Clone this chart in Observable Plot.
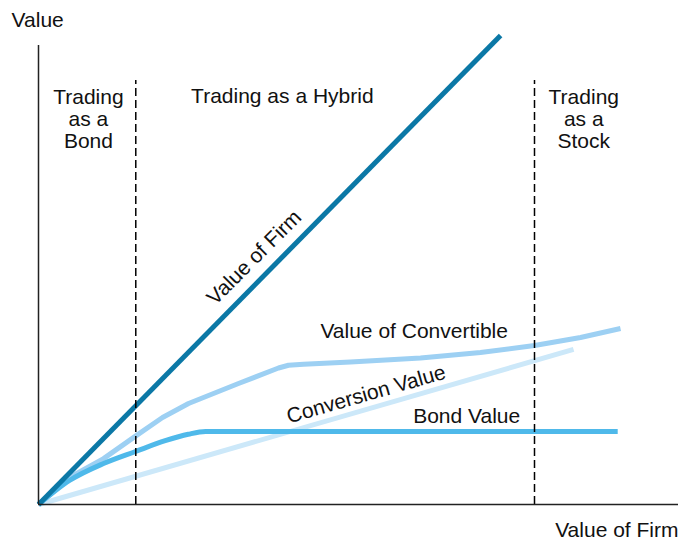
<!DOCTYPE html>
<html><head><meta charset="utf-8">
<script src="https://cdn.jsdelivr.net/npm/d3@7"></script>
<script src="https://cdn.jsdelivr.net/npm/@observablehq/plot@0.6"></script>
<style>body{margin:0;background:#fff}</style>
</head><body><div id="chart"></div>
<script>
// Curves (x: value of firm, y: value; 0..100 axis units)
const valueOfFirm = [[0,0],[72.2,102.2]];
const convertibleValue = [[0,0],[4.84,5.9],[10.16,10.0],[15.16,14.9],[19.38,18.95],[23.44,22.0],[31.25,26.36],[37.5,29.74],[39.06,30.33],[41.41,30.54],[48.75,31.05],[59.69,31.92],[69.06,33.12],[77.5,34.64],[84.69,36.38],[90.94,38.34]];
const bondValue = [[0,0],[4.84,5.23],[10.16,8.93],[15.16,11.55],[19.8,13.9],[23.4,15.3],[26.1,15.9],[90.5,15.9]];
const conversionValue = [[0,0],[83.6,33.8]];
// Regime boundaries (dashed)
const regimeBounds = [15.2, 77.5];
const regimeTop = 92.4;
// Regime labels
const regimeLabels = [
  {text:"Trading\nas a\nBond", x:7.8, y:84.0},
  {text:"Trading as a Hybrid", x:38.1, y:89.0},
  {text:"Trading\nas a\nStock", x:85.2, y:84.0}
];
// Curve labels
const curveLabels = [
  {text:"Value of Firm", x:33.7, y:53.8, rotate:-45},
  {text:"Value of Convertible", x:58.7, y:37.7, rotate:0},
  {text:"Conversion Value", x:51.2, y:24.0, rotate:-16},
  {text:"Bond Value", x:66.9, y:19.2, rotate:0}
];
const yAxisLabel = "Value";
const xAxisLabel = "Value of Firm";

const colors = {firm:"#0b78a6", convertible:"#9dd0f3", bond:"#4fb9ea", conversion:"#cce8f9"};
const px = d => d[0], py = d => d[1];
const FS = 21;

const chart = Plot.plot({
  width: 684, height: 540,
  marginLeft: 0, marginRight: 0, marginTop: 0, marginBottom: 0,
  x: {domain:[0,100], range:[38,678], axis:null},
  y: {domain:[0,100], range:[504,45], axis:null},
  style: {fontFamily:"'Liberation Sans', Arial, Helvetica, sans-serif", background:"#fff", overflow:"visible"},
  marks: [
    Plot.line(conversionValue, {x:px, y:py, stroke:colors.conversion, strokeWidth:5, strokeLinecap:"butt"}),
    Plot.line(convertibleValue, {x:px, y:py, stroke:colors.convertible, strokeWidth:5, curve:"linear", strokeLinecap:"butt"}),
    Plot.line(bondValue, {x:px, y:py, stroke:colors.bond, strokeWidth:5, curve:"monotone-x", strokeLinecap:"butt"}),
    Plot.line(valueOfFirm, {x:px, y:py, stroke:colors.firm, strokeWidth:5, strokeLinecap:"butt"}),
    Plot.ruleX(regimeBounds, {x:d=>d, y1:0, y2:regimeTop, stroke:"#000", strokeWidth:1.5, strokeDasharray:"8,4"}),
    Plot.ruleX([0], {y1:0, y2:100, stroke:"#222", strokeWidth:1.5}),
    Plot.ruleY([0], {x1:0, x2:100, stroke:"#222", strokeWidth:1.5}),
    Plot.text(regimeLabels, {x:"x", y:"y", text:"text", fontSize:FS, lineHeight:1.05, fill:"#111"}),
    Plot.text(curveLabels, {x:"x", y:"y", text:"text", rotate:"rotate", fontSize:FS, fill:"#111"}),
    Plot.text([yAxisLabel], {x:-4.2, y:105.6, text:d=>d, textAnchor:"start", fontSize:FS, fill:"#111"}),
    Plot.text([xAxisLabel], {x:100, y:-5.7, text:d=>d, textAnchor:"end", fontSize:FS, fill:"#111"})
  ]
});
document.getElementById("chart").appendChild(chart);
</script>
</body></html>
